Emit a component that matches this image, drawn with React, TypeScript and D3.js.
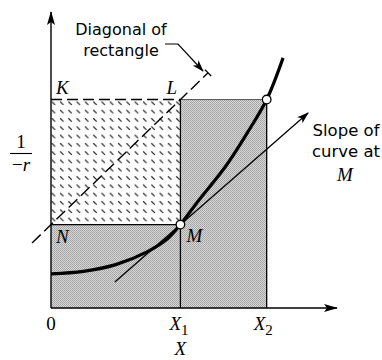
import React from "react";
import * as d3 from "d3";

// Abscissa values marked on the X axis
const X1 = 3;
const X2 = 5;
// Heights of the two horizontal rectangle edges (N–M and K–L)
const yM = 2;
const yL = 5;

// Convex curve
const curveX = [0, 0.75, 1.5, 2.25, 2.7, 3, 3.4, 4.05, 4.55, 5, 5.38];
const curveY = [0.82, 0.88, 1.04, 1.36, 1.66, 2, 2.55, 3.4, 4.2, 5, 6.0];

// Tangent at M
const tangentSlope = 0.905;
const tangentSpan = [1.48, 5.96];

// Diagonal of rectangle K-L-M-N extends past both corners
const diagonalSpan = [-0.44, 3.64];

const W = 382;
const H = 360;

const x = d3.scaleLinear().domain([0, 6.63]).range([51, 337]);
const y = d3.scaleLinear().domain([0, 7.1]).range([308, 12]);

const serif = "'Liberation Serif', 'Times New Roman', serif";
const sans = "'DejaVu Sans', sans-serif";
const fs = 19;

export default function App() {
  const pts: [number, number][] = curveX.map((v, i) => [v, curveY[i]]);
  const curvePath = d3
    .line<[number, number]>()
    .x((d) => x(d[0]))
    .y((d) => y(d[1]))
    .curve(d3.curveCatmullRom.alpha(0.5))(pts)!;

  // gray region: below M-level up to X1, then full height between X1 and X2
  const grayPoly: [number, number][] = [
    [0, 0],
    [0, yM],
    [X1, yM],
    [X1, yL],
    [X2, yL],
    [X2, 0],
  ];
  const grayPath = d3
    .line<[number, number]>()
    .x((d) => x(d[0]))
    .y((d) => y(d[1]))(grayPoly)! + "Z";

  const diagSlope = (yL - yM) / X1;
  const d0 = [diagonalSpan[0], yM + diagSlope * diagonalSpan[0]];
  const d1 = [diagonalSpan[1], yM + diagSlope * diagonalSpan[1]];
  const dx0 = x(d0[0]), dy0 = y(d0[1]), dx1 = x(d1[0]), dy1 = y(d1[1]);
  const len = Math.hypot(dx1 - dx0, dy1 - dy0);
  const ux = (dx1 - dx0) / len, uy = (dy1 - dy0) / len;
  const cap = 4.5;

  const t0 = [tangentSpan[0], yM + tangentSlope * (tangentSpan[0] - X1)];
  const t1 = [tangentSpan[1], yM + tangentSlope * (tangentSpan[1] - X1)];

  return (
    <svg
      width={W}
      height={H}
      style={{ position: "absolute", left: 0, top: 0, background: "#fff" }}
    >
      <defs>
        <pattern id="halftone" width="2" height="2" patternUnits="userSpaceOnUse">
          <rect width="2" height="2" fill="#d8d8d8" />
          <rect width="1" height="1" fill="#a0a0a0" />
          <rect x="1" y="1" width="1" height="1" fill="#aaaaaa" />
        </pattern>
        <pattern id="hatch" width="8.3" height="8.3" patternUnits="userSpaceOnUse">
          <rect width="8.3" height="8.3" fill="#fff" />
          <line x1="2" y1="2" x2="5.4" y2="5.4" stroke="#222" strokeWidth="1.2" />
        </pattern>
        <marker id="axisHead" viewBox="0 0 14 8" refX="13" refY="4" markerWidth="14" markerHeight="8" markerUnits="userSpaceOnUse" orient="auto">
          <path d="M0,0 L14,4 L0,8 L3,4 Z" fill="#000" />
        </marker>
        <marker id="smallHead" viewBox="0 0 12 8" refX="11" refY="4" markerWidth="12" markerHeight="8" markerUnits="userSpaceOnUse" orient="auto">
          <path d="M0,0 L12,4 L0,8 L3,4 Z" fill="#000" />
        </marker>
      </defs>

      {/* shaded areas */}
      <path d={grayPath} fill="url(#halftone)" />
      <rect
        x={x(0)}
        y={y(yL)}
        width={x(X1) - x(0)}
        height={y(yM) - y(yL)}
        fill="url(#hatch)"
      />

      {/* rectangle edges */}
      <line x1={x(0)} x2={x(X1)} y1={y(yM)} y2={y(yM)} stroke="#000" strokeWidth={1.4} />
      <line x1={x(0)} x2={x(X1)} y1={y(yL)} y2={y(yL)} stroke="#000" strokeWidth={1.4} strokeDasharray="11 5" />
      <line x1={x(X1)} x2={x(X2)} y1={y(yL)} y2={y(yL)} stroke="#555" strokeWidth={1} />
      <line x1={x(X1)} x2={x(X1)} y1={y(0)} y2={y(yL)} stroke="#000" strokeWidth={1.3} />
      <line x1={x(X2)} x2={x(X2)} y1={y(0)} y2={y(yL)} stroke="#000" strokeWidth={1.3} />

      {/* diagonal of rectangle */}
      <line x1={dx0} y1={dy0} x2={dx1} y2={dy1} stroke="#000" strokeWidth={1.4} strokeDasharray="12 5" />
      <line
        x1={dx1 - uy * cap}
        y1={dy1 + ux * cap}
        x2={dx1 + uy * cap}
        y2={dy1 - ux * cap}
        stroke="#000"
        strokeWidth={1.4}
      />

      {/* tangent at M */}
      <line
        x1={x(t0[0])}
        y1={y(t0[1])}
        x2={x(t1[0])}
        y2={y(t1[1])}
        stroke="#000"
        strokeWidth={1.3}
        markerEnd="url(#smallHead)"
      />

      {/* curve */}
      <path d={curvePath} fill="none" stroke="#000" strokeWidth={3.2} />

      {/* axes */}
      <line x1={x(0)} y1={y(0)} x2={x(0)} y2={y(7.1)} stroke="#000" strokeWidth={1.4} markerEnd="url(#axisHead)" />
      <line x1={x(0)} y1={y(0)} x2={x(6.63)} y2={y(0)} stroke="#000" strokeWidth={1.4} markerEnd="url(#axisHead)" />

      {/* points on the curve */}
      <circle cx={x(X1)} cy={y(yM)} r={4.3} fill="#fff" stroke="#000" strokeWidth={1.3} />
      <circle cx={x(X2)} cy={y(yL)} r={4.3} fill="#fff" stroke="#000" strokeWidth={1.3} />

      {/* callout for the diagonal */}
      <path
        d="M165,44 L178,44 L203,71"
        fill="none"
        stroke="#000"
        strokeWidth={1.2}
        markerEnd="url(#smallHead)"
      />
      <text x={121} y={35} fontFamily={sans} fontSize={16} textAnchor="middle">Diagonal of</text>
      <text x={121} y={56} fontFamily={sans} fontSize={16} textAnchor="middle">rectangle</text>

      {/* callout for the slope */}
      <text x={346} y={136} fontFamily={sans} fontSize={16.5} textAnchor="middle">Slope of</text>
      <text x={346} y={157} fontFamily={sans} fontSize={16.5} textAnchor="middle">curve at</text>
      <text x={345} y={181} fontFamily={serif} fontSize={fs} fontStyle="italic" textAnchor="middle">M</text>

      {/* corner labels */}
      <text x={x(0) + 5} y={y(yL) - 6} fontFamily={serif} fontSize={fs} fontStyle="italic">K</text>
      <text x={x(X1) - 14} y={y(yL) - 6} fontFamily={serif} fontSize={fs} fontStyle="italic">L</text>
      <text x={x(0) + 5} y={y(yM) + 18} fontFamily={serif} fontSize={fs} fontStyle="italic">N</text>
      <text x={x(X1) + 6} y={y(yM) + 17} fontFamily={serif} fontSize={fs} fontStyle="italic">M</text>

      {/* y-axis label 1 / -r */}
      <text x={21} y={148} fontFamily={serif} fontSize={fs} textAnchor="middle">1</text>
      <line x1={10} x2={32} y1={153.5} y2={153.5} stroke="#000" strokeWidth={1.1} />
      <text x={21} y={171} fontFamily={serif} fontSize={fs} textAnchor="middle">
        <tspan>−</tspan>
        <tspan fontStyle="italic">r</tspan>
      </text>

      {/* x-axis labels */}
      <text x={x(0)} y={330} fontFamily={serif} fontSize={fs} textAnchor="middle">0</text>
      <text x={x(X1) - 11} y={330} fontFamily={serif} fontSize={fs} fontStyle="italic">
        X<tspan fontStyle="normal" fontSize={15} dy={5}>1</tspan>
      </text>
      <text x={x(X2) - 13} y={330} fontFamily={serif} fontSize={fs} fontStyle="italic">
        X<tspan fontStyle="normal" fontSize={15} dy={5}>2</tspan>
      </text>
      <text x={x(X1)} y={355} fontFamily={serif} fontSize={fs} fontStyle="italic" textAnchor="middle">X</text>
    </svg>
  );
}
